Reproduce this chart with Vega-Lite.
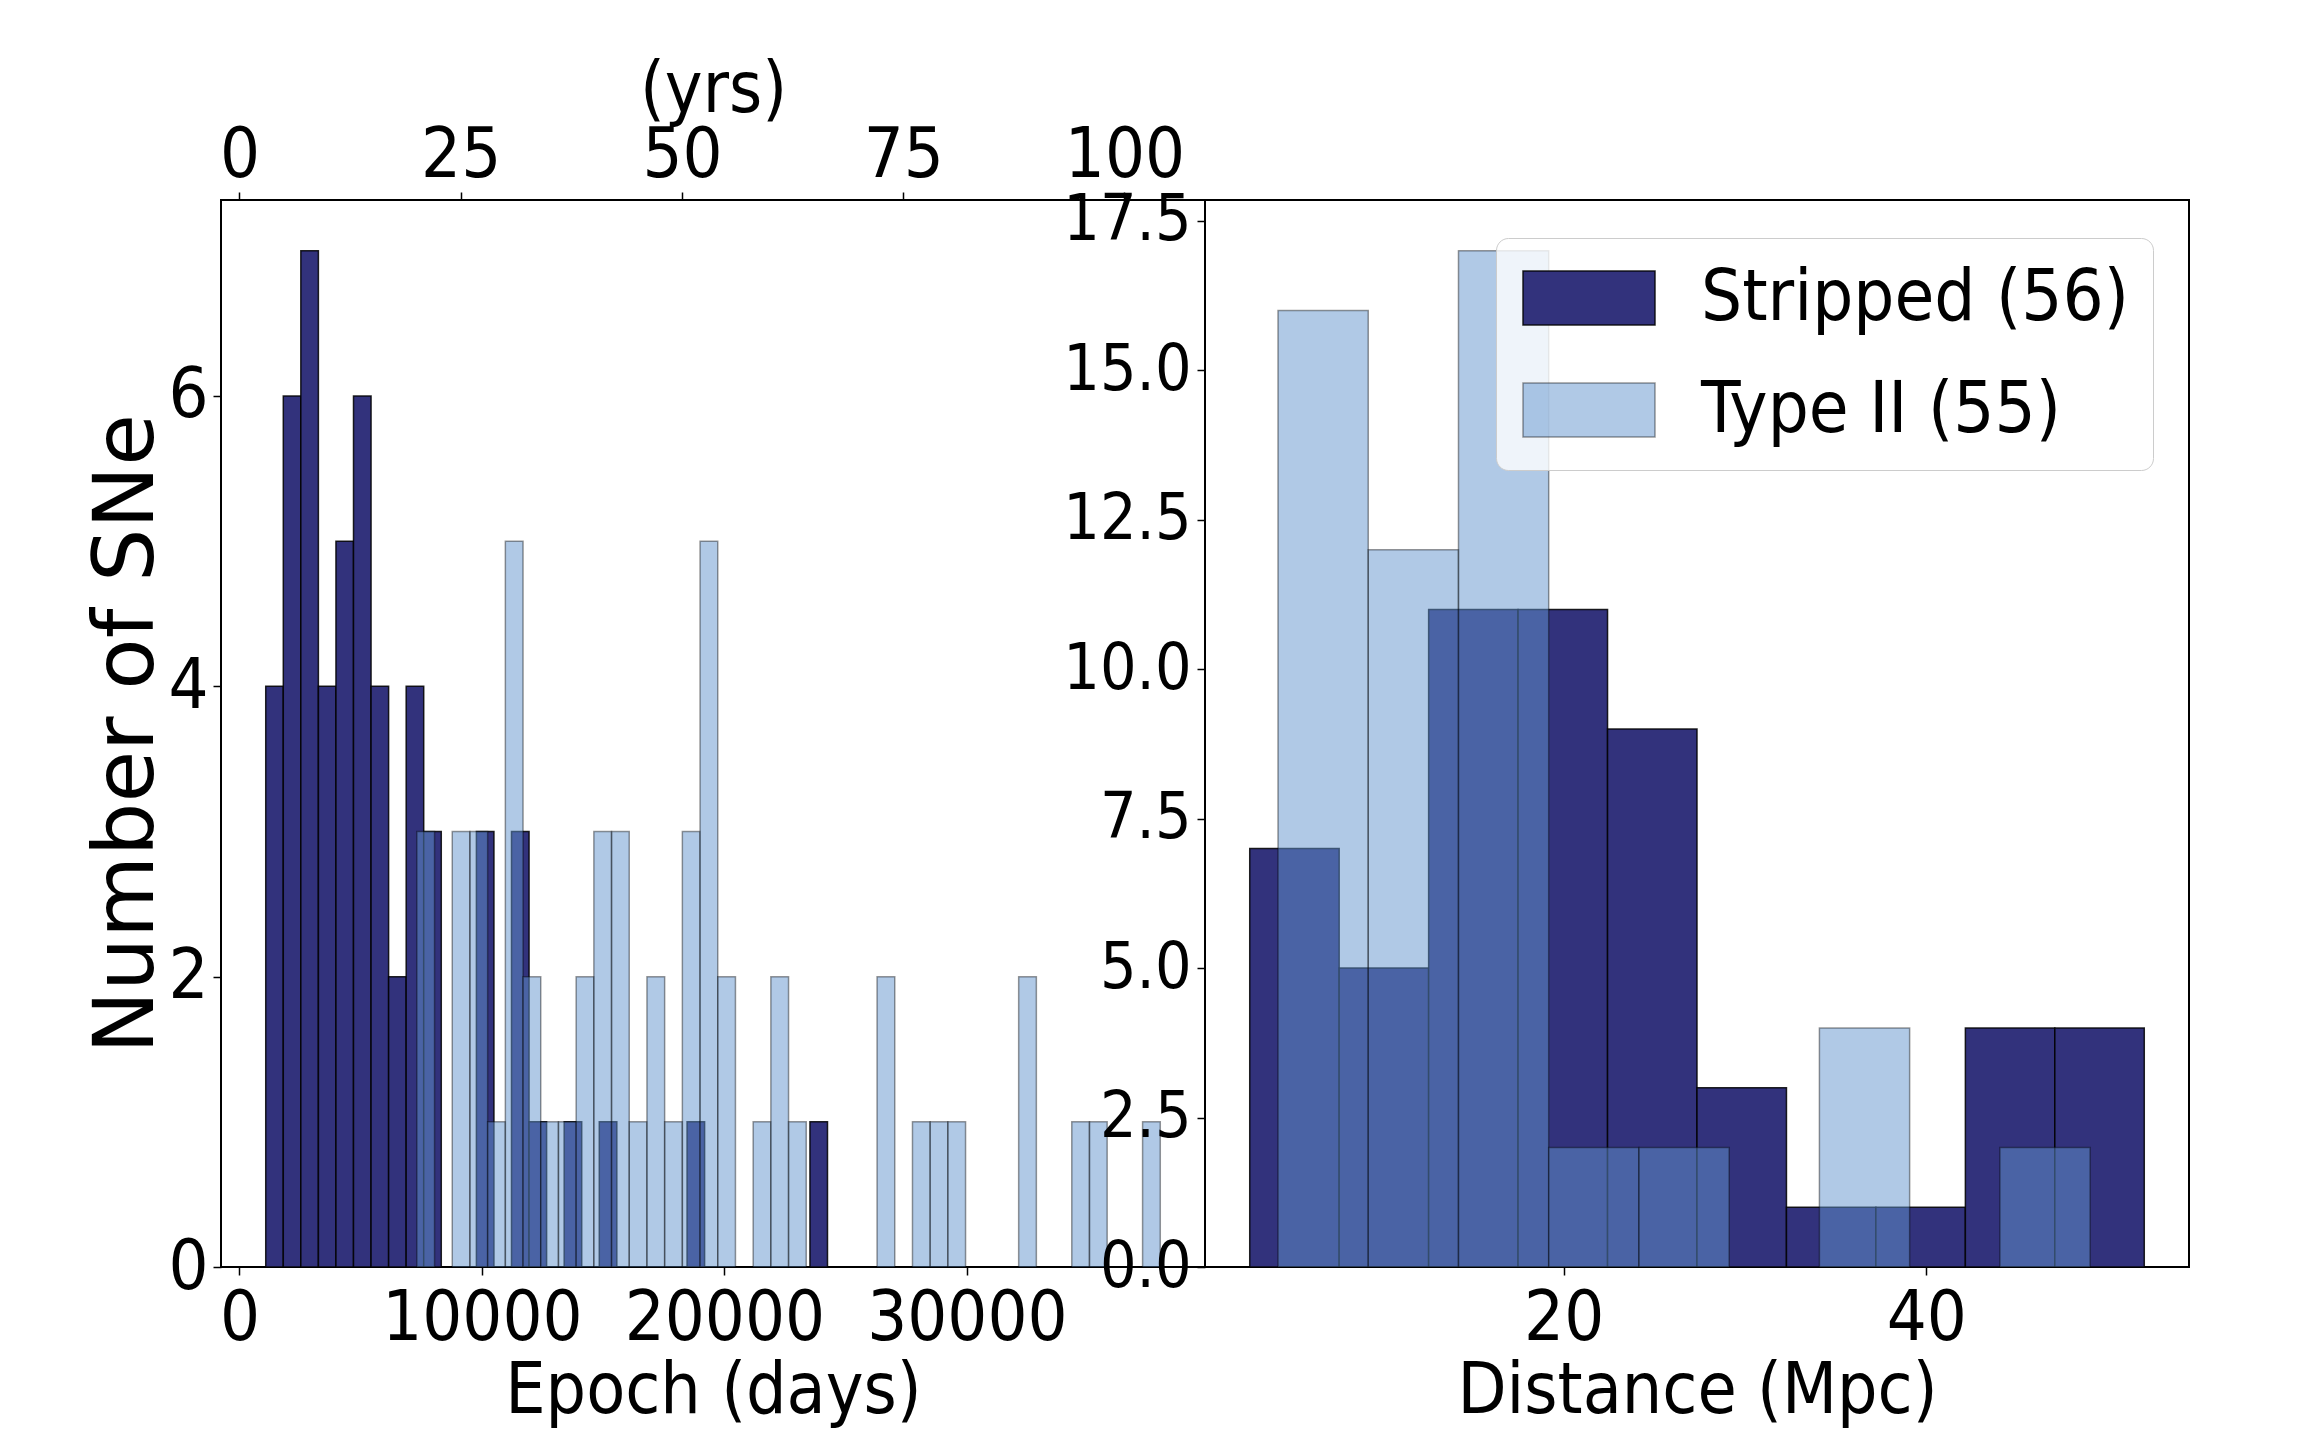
{
  "$schema": "https://vega.github.io/schema/vega-lite/v6.json",
  "background": "white",
  "padding": {"left": 84, "top": 53, "right": 5, "bottom": 5},
  "spacing": 0,
  "bounds": "flush",
  "config": {
    "font": "DejaVu Sans Condensed, DejaVu Sans",
    "view": {"stroke": "black", "strokeWidth": 2},
    "axis": {
      "domain": false, "grid": false, "ticks": true, "tickColor": "black", "tickWidth": 1.5, "tickSize": 8,
      "labelColor": "black", "titleColor": "black", "labelFontSize": 70, "titleFontSize": 71,
      "titleFontWeight": "normal", "labelLimit": 1000, "labelFlush": false, "labelOverlap": false
    }
  },
  "datasets": {
    "epoch": [
      {"type": "Stripped (56)", "lo": 1085, "hi": 1809, "n": 4},
      {"type": "Stripped (56)", "lo": 1809, "hi": 2533, "n": 6},
      {"type": "Stripped (56)", "lo": 2533, "hi": 3257, "n": 7},
      {"type": "Stripped (56)", "lo": 3257, "hi": 3981, "n": 4},
      {"type": "Stripped (56)", "lo": 3981, "hi": 4705, "n": 5},
      {"type": "Stripped (56)", "lo": 4705, "hi": 5429, "n": 6},
      {"type": "Stripped (56)", "lo": 5429, "hi": 6153, "n": 4},
      {"type": "Stripped (56)", "lo": 6153, "hi": 6877, "n": 2},
      {"type": "Stripped (56)", "lo": 6877, "hi": 7601, "n": 4},
      {"type": "Stripped (56)", "lo": 7601, "hi": 8325, "n": 3},
      {"type": "Stripped (56)", "lo": 9773, "hi": 10497, "n": 3},
      {"type": "Stripped (56)", "lo": 11221, "hi": 11945, "n": 3},
      {"type": "Stripped (56)", "lo": 11945, "hi": 12669, "n": 1},
      {"type": "Stripped (56)", "lo": 13393, "hi": 14117, "n": 1},
      {"type": "Stripped (56)", "lo": 14841, "hi": 15565, "n": 1},
      {"type": "Stripped (56)", "lo": 18461, "hi": 19185, "n": 1},
      {"type": "Stripped (56)", "lo": 23529, "hi": 24253, "n": 1},
      {"type": "Type II (55)", "lo": 7317, "hi": 8047, "n": 3},
      {"type": "Type II (55)", "lo": 8777, "hi": 9507, "n": 3},
      {"type": "Type II (55)", "lo": 9507, "hi": 10237, "n": 3},
      {"type": "Type II (55)", "lo": 10237, "hi": 10967, "n": 1},
      {"type": "Type II (55)", "lo": 10967, "hi": 11697, "n": 5},
      {"type": "Type II (55)", "lo": 11697, "hi": 12427, "n": 2},
      {"type": "Type II (55)", "lo": 12427, "hi": 13157, "n": 1},
      {"type": "Type II (55)", "lo": 13157, "hi": 13887, "n": 1},
      {"type": "Type II (55)", "lo": 13887, "hi": 14617, "n": 2},
      {"type": "Type II (55)", "lo": 14617, "hi": 15347, "n": 3},
      {"type": "Type II (55)", "lo": 15347, "hi": 16077, "n": 3},
      {"type": "Type II (55)", "lo": 16077, "hi": 16807, "n": 1},
      {"type": "Type II (55)", "lo": 16807, "hi": 17537, "n": 2},
      {"type": "Type II (55)", "lo": 17537, "hi": 18267, "n": 1},
      {"type": "Type II (55)", "lo": 18267, "hi": 18997, "n": 3},
      {"type": "Type II (55)", "lo": 18997, "hi": 19727, "n": 5},
      {"type": "Type II (55)", "lo": 19727, "hi": 20457, "n": 2},
      {"type": "Type II (55)", "lo": 21187, "hi": 21917, "n": 1},
      {"type": "Type II (55)", "lo": 21917, "hi": 22647, "n": 2},
      {"type": "Type II (55)", "lo": 22647, "hi": 23377, "n": 1},
      {"type": "Type II (55)", "lo": 26297, "hi": 27027, "n": 2},
      {"type": "Type II (55)", "lo": 27757, "hi": 28487, "n": 1},
      {"type": "Type II (55)", "lo": 28487, "hi": 29217, "n": 1},
      {"type": "Type II (55)", "lo": 29217, "hi": 29947, "n": 1},
      {"type": "Type II (55)", "lo": 32137, "hi": 32867, "n": 2},
      {"type": "Type II (55)", "lo": 34327, "hi": 35057, "n": 1},
      {"type": "Type II (55)", "lo": 35057, "hi": 35787, "n": 1},
      {"type": "Type II (55)", "lo": 37247, "hi": 37977, "n": 1}
    ],
    "dist": [
      {"type": "Stripped (56)", "lo": 2.68, "hi": 7.615, "n": 7},
      {"type": "Stripped (56)", "lo": 7.615, "hi": 12.55, "n": 5},
      {"type": "Stripped (56)", "lo": 12.55, "hi": 17.485, "n": 11},
      {"type": "Stripped (56)", "lo": 17.485, "hi": 22.42, "n": 11},
      {"type": "Stripped (56)", "lo": 22.42, "hi": 27.355, "n": 9},
      {"type": "Stripped (56)", "lo": 27.355, "hi": 32.29, "n": 3},
      {"type": "Stripped (56)", "lo": 32.29, "hi": 37.225, "n": 1},
      {"type": "Stripped (56)", "lo": 37.225, "hi": 42.16, "n": 1},
      {"type": "Stripped (56)", "lo": 42.16, "hi": 47.095, "n": 4},
      {"type": "Stripped (56)", "lo": 47.095, "hi": 52.03, "n": 4},
      {"type": "Type II (55)", "lo": 4.24, "hi": 9.218, "n": 16},
      {"type": "Type II (55)", "lo": 9.218, "hi": 14.196, "n": 12},
      {"type": "Type II (55)", "lo": 14.196, "hi": 19.174, "n": 17},
      {"type": "Type II (55)", "lo": 19.174, "hi": 24.152, "n": 2},
      {"type": "Type II (55)", "lo": 24.152, "hi": 29.13, "n": 2},
      {"type": "Type II (55)", "lo": 34.108, "hi": 39.086, "n": 4},
      {"type": "Type II (55)", "lo": 44.064, "hi": 49.042, "n": 2}
    ]
  },
  "resolve": {"scale": {"fill": "independent", "stroke": "independent"}},
  "hconcat": [
    {
      "width": 984,
      "height": 1067,
      "data": {"name": "epoch"},
      "resolve": {"axis": {"x": "independent"}},
      "layer": [
        {
          "mark": {"type": "bar", "strokeWidth": 1.5},
          "encoding": {
            "x": {"field": "lo", "type": "quantitative",
              "scale": {"domain": [-759.6, 39821.6], "nice": false, "zero": false},
              "axis": {"orient": "bottom", "values": [0, 10000, 20000, 30000], "format": "d",
                "title": "Epoch (days)", "labelPadding": 9, "titleY": 145, "titleBaseline": "alphabetic"}},
            "x2": {"field": "hi"},
            "y": {"field": "n", "type": "quantitative", "stack": null,
              "scale": {"domain": [0, 7.35], "nice": false, "zero": false},
              "axis": {"values": [0, 2, 4, 6], "title": "Number of SNe", "titleFont": "DejaVu Sans",
                "titleFontSize": 84, "titleX": -69, "titleBaseline": "alphabetic", "labelPadding": 5}},
            "y2": {"datum": 0},
            "fill": {"field": "type", "type": "nominal",
              "scale": {"domain": ["Stripped (56)", "Type II (55)"], "range": ["#32327c", "rgba(97,147,205,0.5)"]},
              "legend": null},
            "stroke": {"field": "type", "type": "nominal",
              "scale": {"domain": ["Stripped (56)", "Type II (55)"], "range": ["rgba(0,0,0,0.85)", "rgba(0,0,0,0.4)"]},
              "legend": null}
          }
        },
        {
          "mark": {"type": "bar", "opacity": 0},
          "encoding": {
            "x": {"field": "lo", "type": "quantitative",
              "scale": {"domain": [-759.6, 39821.6], "nice": false, "zero": false},
              "axis": {"orient": "top", "values": [0, 9125, 18250, 27375, 36500],
                "labelExpr": "format(datum.value / 365, 'd')", "title": "(yrs)",
                "titleX": 492, "titleY": -89, "titleBaseline": "alphabetic", "labelPadding": 1}},
            "x2": {"field": "hi"}
          }
        }
      ]
    },
    {
      "width": 984,
      "height": 1067,
      "data": {"name": "dist"},
      "mark": {"type": "bar", "strokeWidth": 1.5},
      "encoding": {
        "x": {"field": "lo", "type": "quantitative",
          "scale": {"domain": [0.2125, 54.4975], "nice": false, "zero": false},
          "axis": {"values": [20, 40], "title": "Distance (Mpc)", "labelPadding": 9, "titleY": 145, "titleBaseline": "alphabetic"}},
        "x2": {"field": "hi"},
        "y": {"field": "n", "type": "quantitative", "stack": null,
          "scale": {"domain": [0, 17.85], "nice": false, "zero": false},
          "axis": {"values": [0, 2.5, 5, 7.5, 10, 12.5, 15, 17.5], "format": ".1f", "title": null,
            "labelPadding": 6, "labelFontSize": 64}},
        "y2": {"datum": 0},
        "fill": {"field": "type", "type": "nominal",
          "scale": {"domain": ["Stripped (56)", "Type II (55)"], "range": ["#32327c", "rgba(97,147,205,0.5)"]},
          "legend": {"title": null, "orient": "none", "legendX": 291, "legendY": 38,
            "symbolType": "M-2,-0.82H2V0.82H-2Z", "symbolSize": 4356, "symbolOffset": 33, "symbolStrokeWidth": 1.5,
            "labelFontSize": 72, "labelOffset": 76, "labelColor": "black", "labelLimit": 1000,
            "padding": 24, "rowPadding": 40, "fillColor": "rgba(255,255,255,0.8)", "strokeColor": "#cccccc",
            "cornerRadius": 12}},
        "stroke": {"field": "type", "type": "nominal",
          "scale": {"domain": ["Stripped (56)", "Type II (55)"], "range": ["rgba(0,0,0,0.85)", "rgba(0,0,0,0.4)"]},
          "legend": {"title": null, "orient": "none", "legendX": 291, "legendY": 38,
            "symbolType": "M-2,-0.82H2V0.82H-2Z", "symbolSize": 4356, "symbolOffset": 33, "symbolStrokeWidth": 1.5,
            "labelFontSize": 72, "labelOffset": 76, "labelColor": "black", "labelLimit": 1000,
            "padding": 24, "rowPadding": 40, "fillColor": "rgba(255,255,255,0.8)", "strokeColor": "#cccccc",
            "cornerRadius": 12}}
      }
    }
  ]
}
